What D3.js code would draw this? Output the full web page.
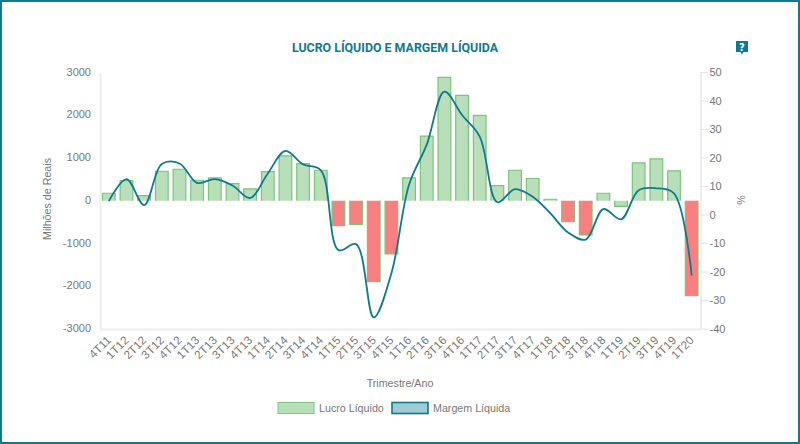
<!DOCTYPE html>
<html>
<head>
<meta charset="utf-8">
<script src="https://d3js.org/d3.v7.min.js"></script>
<style>
    html, body { margin: 0; padding: 0; background: #fff; }
    svg { display: block; }
    text { font-family: "Liberation Sans", Arial, sans-serif; fill: #777; }
    .axis text { font-size: 11px; fill: #777; }
    .axis path { stroke: #eeeeee; stroke-width: 2; }
    .axis line { stroke: #e6e6e6; stroke-width: 1; }
</style>
</head>
<body>
<svg id="chart" width="800" height="444"></svg>
<script>
    const data = [
        ["4T11", 175, 4.7], ["1T12", 473, 12.4], ["2T12", 120, 3.3], ["3T12", 690, 17.7],
        ["4T12", 737, 17.9], ["1T13", 480, 11.1], ["2T13", 535, 12.4], ["3T13", 400, 10.2],
        ["4T13", 277, 5.8], ["1T14", 683, 14.4], ["2T14", 1050, 22.3], ["3T14", 870, 17.6],
        ["4T14", 714, 15.6], ["1T15", -580, -12.5], ["2T15", -555, -10.4], ["3T15", -1890, -36.1],
        ["4T15", -1245, -20.6], ["1T16", 535, 10.5], ["2T16", 1510, 24.5], ["3T16", 2885, 43.1],
        ["4T16", 2463, 34.9], ["1T17", 1995, 27.3], ["2T17", 355, 4.3], ["3T17", 714, 8.9],
        ["4T17", 520, 6.2], ["1T18", 35, 0.4], ["2T18", -490, -6.3], ["3T18", -800, -8.8],
        ["4T18", 175, 1.9], ["1T19", -130, -1.7], ["2T19", 885, 8.5], ["3T19", 980, 9.2],
        ["4T19", 700, 7.4], ["1T20", -2220, -21.4]
    ].map(d => ({ label: d[0], lucro: d[1], margem: d[2] }));

    // quarters drawn in red in the original
    const redBars = ["1T15", "2T15", "3T15", "4T15", "2T18", "3T18", "1T20"];

    const teal = "#0f7a8c";
    const svg = d3.select("#chart");

    // page frame
    svg.append("rect")
        .attr("x", 1)
        .attr("y", 1)
        .attr("width", 798)
        .attr("height", 442)
        .attr("fill", "none")
        .attr("stroke", teal)
        .attr("stroke-width", 2);

    const x = d3.scaleBand().domain(data.map(d => d.label)).range([100, 700.5]);
    const yLeft = d3.scaleLinear().domain([-3000, 3000]).range([329, 72.5]);
    const yRight = d3.scaleLinear().domain([-40, 50]).range([328.5, 72]);
    const barWidth = 12.7;

    const axisLeft = svg.append("g")
        .attr("class", "axis")
        .attr("transform", "translate(100,0)")
        .call(d3.axisLeft(yLeft).ticks(6).tickFormat(d => String(d)).tickSize(0).tickPadding(9));
    axisLeft.selectAll("text").attr("y", -1);

    svg.append("g")
        .attr("class", "axis")
        .attr("transform", "translate(700.5,0)")
        .call(d3.axisRight(yRight).tickValues(d3.range(-40, 51, 10)).tickFormat(d => String(d)).tickSize(8).tickSizeOuter(0).tickPadding(1));

    const axisBottom = svg.append("g")
        .attr("class", "axis")
        .attr("transform", "translate(0,329)")
        .call(d3.axisBottom(x).tickSize(0));
    axisBottom.selectAll("text")
        .attr("text-anchor", "end")
        .attr("dx", 0)
        .attr("dy", 0)
        .attr("y", 0)
        .style("font-size", "11.6px")
        .attr("transform", "translate(3,12) rotate(-45)");

    // bars, no border on the zero side
    svg.append("g")
        .selectAll("rect")
        .data(data)
        .enter().append("rect")
        .attr("x", d => x(d.label) + (x.bandwidth() - barWidth) / 2)
        .attr("y", d => Math.min(yLeft(d.lucro), yLeft(0)))
        .attr("width", barWidth)
        .attr("height", d => Math.abs(yLeft(d.lucro) - yLeft(0)))
        .attr("fill", d => redBars.includes(d.label) ? "#f88080" : "#b9dfba");

    svg.append("g")
        .selectAll("path")
        .data(data)
        .enter().append("path")
        .attr("fill", "none")
        .attr("stroke", "#78c57b")
        .attr("stroke-width", 1.2)
        .attr("d", d => {
            const x0 = x(d.label) + (x.bandwidth() - barWidth) / 2;
            const x1 = x0 + barWidth;
            return `M${x0},${yLeft(0)}V${yLeft(d.lucro)}H${x1}V${yLeft(0)}`;
        });

    const line = d3.line()
        .x(d => x(d.label) + x.bandwidth() / 2)
        .y(d => yRight(d.margem))
        .curve(d3.curveCatmullRom.alpha(0.5));

    svg.append("path")
        .datum(data)
        .attr("fill", "none")
        .attr("stroke", teal)
        .attr("stroke-width", 1.8)
        .attr("d", line);

    svg.append("text")
        .attr("x", 395)
        .attr("y", 51.5)
        .attr("text-anchor", "middle")
        .style("font-family", "Roboto")
        .style("font-weight", 700)
        .style("font-size", "12.4px")
        .style("fill", teal)
        .text("LUCRO LÍQUIDO E MARGEM LÍQUIDA");

    svg.append("text")
        .attr("transform", "translate(51,199) rotate(-90)")
        .attr("text-anchor", "middle")
        .style("font-size", "10.7px")
        .text("Milhões de Reais");

    svg.append("text")
        .attr("transform", "translate(737,200) rotate(90)")
        .attr("text-anchor", "middle")
        .style("font-size", "10.7px")
        .text("%");

    svg.append("text")
        .attr("x", 400)
        .attr("y", 387)
        .attr("text-anchor", "middle")
        .style("font-size", "10.7px")
        .text("Trimestre/Ano");

    // legend
    const legend = [
        { name: "Lucro Líquido", x: 278, fill: "#b9dfba", stroke: "#7cc67f" },
        { name: "Margem Líquida", x: 392, fill: "#a2ccd3", stroke: teal }
    ];
    const legendItem = svg.append("g")
        .selectAll("g")
        .data(legend)
        .enter().append("g")
        .attr("transform", d => `translate(${d.x},402.5)`);
    legendItem.append("rect")
        .attr("width", 36)
        .attr("height", 11)
        .attr("fill", d => d.fill)
        .attr("stroke", d => d.stroke)
        .attr("stroke-width", d => d.stroke === teal ? 1.6 : 1);
    legendItem.append("text")
        .attr("x", 41)
        .attr("y", 9)
        .style("font-size", "10.7px")
        .text(d => d.name);

    // help icon
    const help = svg.append("g").attr("transform", "translate(736,41)");
    help.append("path")
        .attr("d", "M0,0H12V11H7.5L6,13.5L4.5,11H0Z")
        .attr("fill", teal);
    help.append("text")
        .attr("x", 6)
        .attr("y", 9.5)
        .attr("text-anchor", "middle")
        .style("font-family", "DejaVu Sans")
        .style("font-weight", 700)
        .style("font-size", "10px")
        .style("fill", "#fff")
        .text("?");
</script>
</body>
</html>
